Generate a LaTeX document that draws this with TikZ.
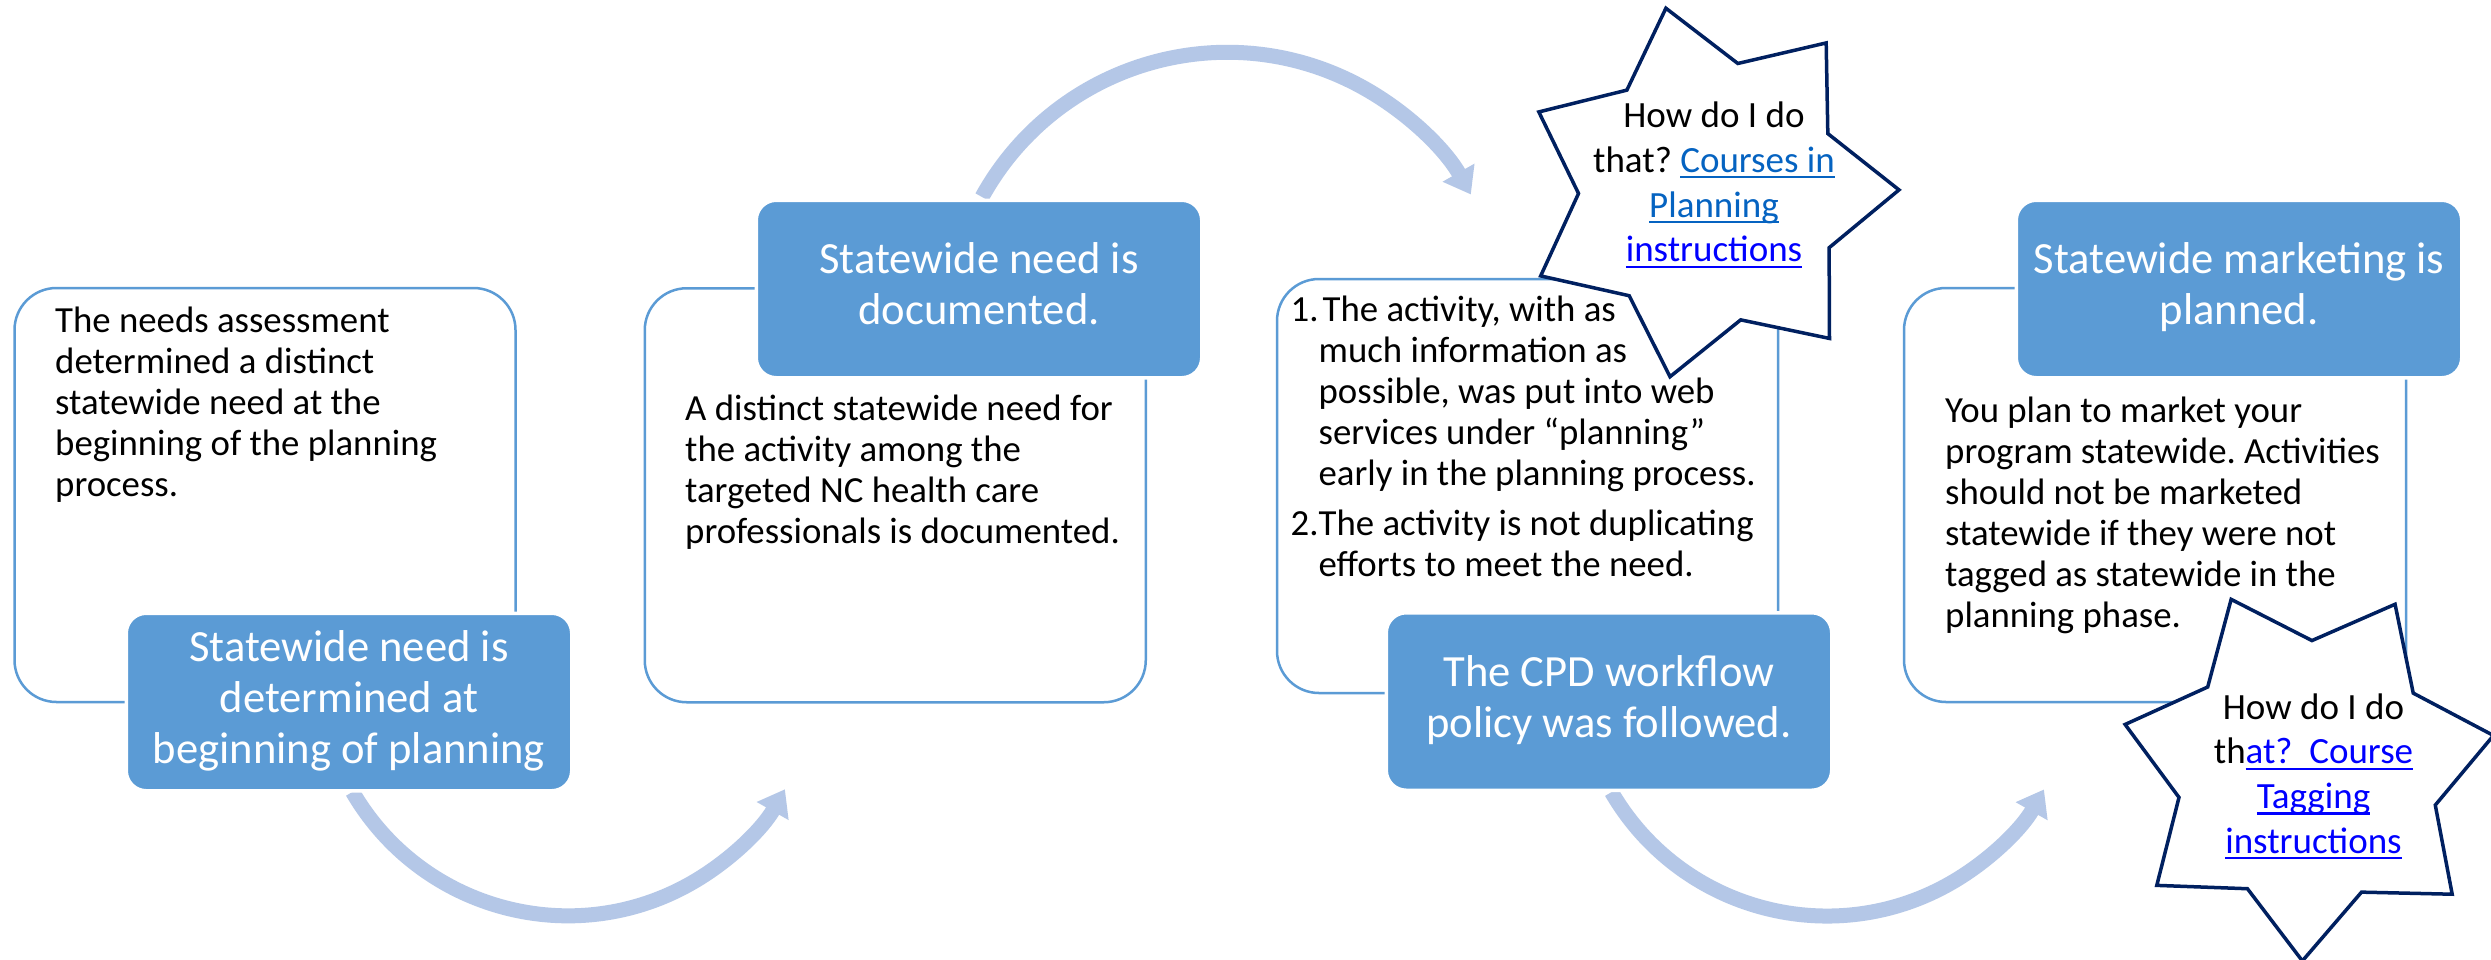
\documentclass[tikz,border=0pt]{standalone}
\usepackage{fontspec}
\setmainfont{Carlito}
\usetikzlibrary{arrows.meta,calc}
\definecolor{boxblue}{RGB}{91,155,213}
\definecolor{arrowblue}{RGB}{180,199,231}
\definecolor{navyline}{RGB}{0,32,96}
\definecolor{linkblue}{RGB}{5,99,193}
\definecolor{pureblue}{RGB}{0,0,255}
\frenchspacing
\newlength\lkw
\newcommand\lk[2]{\settowidth{\lkw}{#2}{\color{#1}\rlap{\rule[-6pt]{\lkw}{2.2pt}}#2}}
\newcommand\mybody{\fontsize{36.8}{41}\selectfont}
\newcommand\mytitle{\fontsize{44.6}{51}\selectfont}
\newcommand\mystar{\fontsize{37}{44.8}\selectfont}
\newcommand\leftlines[1]{\begin{tabular}[t]{@{}l@{}}#1\end{tabular}}
\newcommand\midlines[1]{\begin{tabular}[t]{@{}c@{}}#1\end{tabular}}
\newcommand\boxlines[1]{\begin{tabular}{@{}c@{}}#1\end{tabular}}
\tikzset{
  outbox/.style={draw=boxblue, line width=2.5pt, rounded corners=42pt,
    minimum width=501pt, minimum height=414pt, inner sep=0pt},
  titlebox/.style={fill=boxblue, draw=white, line width=3.5pt, rounded corners=20pt,
    minimum width=445.5pt, minimum height=177.5pt, inner sep=0pt, text=white, font=\mytitle},
  bodytext/.style={inner sep=0pt, anchor=base west, font=\mybody},
  flowarrow/.style={draw=arrowblue, line width=15pt, -{Triangle[length=25pt,width=35pt]}},
  starline/.style={draw=navyline, line width=3.5pt, fill=white, line join=miter},
  startext/.style={inner sep=0pt, anchor=base, font=\mystar},
}
\begin{document}
\begin{tikzpicture}[x=1pt,y=-1pt]
\useasboundingbox (0,0) rectangle (2491,959);
\fill[white] (0,0) rectangle (2491,959);

% outline boxes
\node[outbox] (b1) at (265,495) {};
\node[outbox] (b2) at (895.25,495.25) {};
\node[outbox] (b3) at (1527.5,486) {};
\node[outbox, minimum width=502pt] (b4) at (2155,495) {};

% centres of the title boxes
\path (349,702) coordinate (c1) (979,289) coordinate (c2) (1609,701.5) coordinate (c3) (2239,289) coordinate (c4);

% arrows
\draw[flowarrow] ($(c1)+(3.5,89.9)$) arc[start angle=149.8, end angle=29.5, radius=249.3];
\draw[flowarrow] ($(c2)+(3,-92)$) arc[start angle=-151.1, end angle=-29.5, radius=280];
\draw[flowarrow] ($(c3)+(2.5,90.6)$) arc[start angle=149.8, end angle=29.5, radius=249.3];

% title boxes
\node[titlebox] (t1) at (c1) {\boxlines{Statewide need is\\ determined at\\ beginning of planning}};
\node[titlebox] (t2) at (c2) {\boxlines{Statewide need is\\ documented.}};
\node[titlebox] (t3) at (c3) {\boxlines{The CPD workflow\\ policy was followed.}};
\node[titlebox] (t4) at (c4) {\boxlines{Statewide marketing is\\ planned.}};

% stars
\draw[starline] plot[samples at={0,...,13}]
  ({1710+ifthenelse(mod(\x,2)==0,189,131.5)*cos(103.5-\x*180/7)},
   {192-ifthenelse(mod(\x,2)==0,189,131.5)*sin(103.5-\x*180/7)}) -- cycle;
\draw[starline] plot[samples at={0,...,13}]
  ({2308+ifthenelse(mod(\x,2)==0,189,131.5)*cos(114-\x*180/7)},
   {772-ifthenelse(mod(\x,2)==0,189,131.5)*sin(114-\x*180/7)}) -- cycle;

% body texts
\node[bodytext] (x1) at (55,332) {\leftlines{The needs assessment\\ determined a distinct\\ statewide need at the\\ beginning of the planning\\ process.}};
\node[bodytext] (x2) at (685,420) {\leftlines{A distinct statewide need for\\ the activity among the\\ targeted NC health care\\ professionals is documented.}};
\node[bodytext] (x3) at (1290.5,321) {\begin{tabular}[t]{@{}r@{}l@{}}
1. & \hspace{4pt}The activity, with as\\
 & much information as\\
 & possible, was put into web\\
 & services under “planning”\\
 & early in the planning process.\\[9pt]
2. & The activity is not duplicating\\
 & efforts to meet the need.
\end{tabular}};
\node[bodytext] (x4) at (1945,422) {\leftlines{You plan to market your\\ program statewide. Activities\\ should not be marketed\\ statewide if they were not\\ tagged as statewide in the\\ planning phase.}};

% star texts
\node[startext] (s1) at (1714,127.5) {\midlines{How do I do\\ that? \lk{linkblue}{Courses in}\\ \lk{linkblue}{Planning}\\ \lk{pureblue}{instructions}}};
\node[startext] (s2) at (2313.5,719) {\midlines{How do I do\\ th\lk{pureblue}{at?\ \ Course}\\ \lk{pureblue}{Tagging}\\ \lk{pureblue}{instructions}}};
\end{tikzpicture}
\end{document}
